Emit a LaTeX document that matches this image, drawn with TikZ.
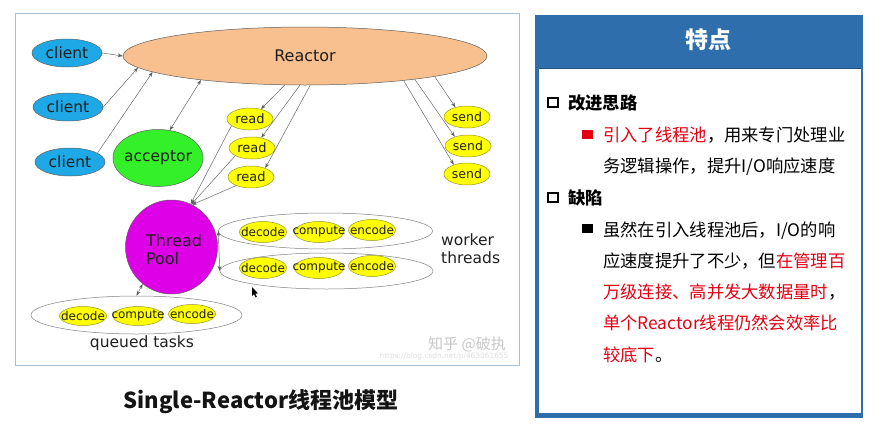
\documentclass[tikz,border=0pt]{standalone}
\usepackage{fontspec}
\usetikzlibrary{shapes.geometric,arrows.meta}
\newfontfamily\dejavu{DejaVu Sans}
\newfontfamily\cjkfont{Noto Sans CJK SC}

\definecolor{clientblue}{RGB}{30,168,230}
\definecolor{reactorfill}{RGB}{248,192,142}
\definecolor{acceptgreen}{RGB}{52,240,40}
\definecolor{taskyellow}{RGB}{255,255,0}
\definecolor{taskedge}{RGB}{150,150,40}
\definecolor{poolmagenta}{RGB}{222,0,230}
\definecolor{panelblue}{RGB}{47,110,172}
\definecolor{hotred}{RGB}{228,0,18}
\definecolor{framegray}{RGB}{165,192,215}
\definecolor{edgegray}{RGB}{95,95,95}

\tikzset{
  % the ellipse takes its size from minimum width/height only;
  % its word is set as a centred label so it cannot widen the shape
  blob/.style={ellipse, draw=edgegray, line width=0.5pt, inner sep=0pt},
  word/.style={inner sep=0pt, text=black!88, align=left,
    font=\dejavu\fontsize{#1}{18}\selectfont},
  word/.default=15.5,
  clientnode/.style={blob, fill=clientblue, minimum width=70pt, minimum height=28pt,
    label={[word]center:client}},
  readnode/.style={blob, fill=taskyellow, draw=taskedge, minimum width=46pt,
    minimum height=22pt, label={[word=13]center:read}},
  sendnode/.style={blob, fill=taskyellow, draw=taskedge, minimum width=46pt,
    minimum height=22pt, label={[word=12.5]center:send}},
  tasknode/.style={blob, fill=taskyellow, draw=taskedge, minimum width=47pt,
    minimum height=21pt, label={[word=12]center:#1}},
  groupring/.style={ellipse, draw=edgegray!80, line width=0.5pt, inner sep=0pt},
  plainlabel/.style={word},
  link/.style={draw=edgegray, line width=0.45pt,
    arrows={-Stealth[length=5pt,width=3.6pt]}},
  duallink/.style={draw=edgegray, line width=0.45pt,
    arrows={Stealth[length=5pt,width=3.6pt]-Stealth[length=5pt,width=3.6pt]}},
  bodytext/.style={anchor=base west, inner sep=0pt,
    font=\cjkfont\fontsize{17.3}{20}\selectfont},
  headtext/.style={bodytext, font=\cjkfont\bfseries\fontsize{17.3}{20}\selectfont},
  boxmark/.style={draw=black, line width=2.2pt, minimum size=9.5pt, inner sep=0pt},
  dotmark/.style={minimum width=10.5pt, minimum height=9.5pt, inner sep=0pt},
}

\begin{document}
\begin{tikzpicture}[x=1pt, y=-1pt]
\useasboundingbox (0,0) rectangle (885,426);
\fill[white] (0,0) rectangle (885,426);

% ---------- left panel: reactor with thread pool ----------
\draw[framegray, line width=1pt] (15,13) rectangle (519,365);

\node[blob, fill=reactorfill, minimum width=364pt, minimum height=58pt,
  label={[word=16]center:Reactor}] (reactor) at (305,56) {};

\node[clientnode] (client1) at (67,53) {};
\node[clientnode] (client2) at (68,107) {};
\node[clientnode] (client3) at (70,162) {};

\node[blob, fill=acceptgreen, minimum width=90pt, minimum height=57pt,
  label={[word]center:acceptor}] (acceptor) at (158,158) {};

\node[readnode] (read1) at (250,119) {};
\node[readnode] (read2) at (252,148) {};
\node[readnode] (read3) at (251,177) {};

\node[sendnode] (send1) at (467,117) {};
\node[sendnode] (send2) at (468,146) {};
\node[sendnode] (send3) at (467,174) {};

\node[blob, fill=poolmagenta, minimum width=92pt, minimum height=94pt] (pool) at (171.5,247) {};
\node[word=16] (pooltext) at (174,249.5) {Thread\\Pool};

% worker threads
\node[groupring, minimum width=214pt, minimum height=36pt] (wrow1) at (325.5,231) {};
\node[groupring, minimum width=213pt, minimum height=36pt] (wrow2) at (326.5,271) {};
\node[tasknode=decode] (wdec1) at (263,232) {};
\node[tasknode=compute, minimum width=49pt] (wcmp1) at (319,232) {};
\node[tasknode=encode] (wenc1) at (372,230) {};
\node[tasknode=decode] (wdec2) at (263,268) {};
\node[tasknode=compute, minimum width=49pt] (wcmp2) at (319,268) {};
\node[tasknode=encode] (wenc2) at (372,266) {};
\node[plainlabel, anchor=west] (workerlbl) at (441,249) {worker\\threads};

% queued tasks
\node[groupring, minimum width=211pt, minimum height=38pt] (queue) at (136.5,315) {};
\node[tasknode=decode, minimum height=19pt] (qdec) at (83,316) {};
\node[tasknode=compute, minimum width=50pt, minimum height=19pt] (qcmp) at (138,316) {};
\node[tasknode=encode, minimum height=19pt] (qenc) at (192,314) {};
\node[plainlabel] (queuelbl) at (142,343) {queued tasks};

% connectors
\draw[link] (client1.east) -- (reactor.west);
\draw[link] (client2.east) -- (reactor.184);
\draw[link] (client3.18) -- (reactor.186);
\draw[duallink] (acceptor.67) -- (reactor.193.6);
\draw[link] (reactor.235) -- (read1.42);
\draw[link] (reactor.260) -- (read2.48);
\draw[link] (reactor.280) -- (read3.32);
\draw[link] (read1.200) -- (pool.66);
\draw[link] (read2.205) -- (pool.65);
\draw[link] (read3.210) -- (pool.64);
\draw[link] (reactor.351) -- (send1.140);
\draw[link] (reactor.348) -- (send2.145);
\draw[link] (reactor.346) -- (send3.145);
\draw[duallink] (wrow1.west) -- (wrow2.west);
\draw[duallink] (queue.north) -- (pool.232);

% pointer
\fill[black] (252,287) -- (252,296) -- (254,294) -- (255.6,297.4) -- (256.8,296.8) -- (255.3,293.6) -- (258,293.4) -- cycle;

% watermark
\node[text=black!22, font=\cjkfont\fontsize{15}{18}\selectfont] (wmark) at (467,344) {知乎 @破执};
\node[text=black!13, font=\dejavu\fontsize{7.4}{9}\selectfont] (wurl) at (444,356) {https://blog.csdn.net/p/463061655};

% caption
\node[font=\cjkfont\bfseries\fontsize{22}{26}\selectfont, text=black!92] (caption) at (261,402) {Single-Reactor线程池模型};

% ---------- right panel: features ----------
\fill[panelblue] (535,15) rectangle (863,418);
\fill[white] (539,68) rectangle (861,413);
\draw[panelblue!75!black, line width=0.8pt] (539,68) -- (861,68);
\node[text=white, font=\cjkfont\bfseries\fontsize{23}{26}\selectfont] (title) at (708,40) {特点};

\node[boxmark] (sq1) at (553,102.5) {};
\node[headtext] (head1) at (568,109) {改进思路};
\node[dotmark, fill=hotred] (dot1) at (587.5,134.5) {};
\node[bodytext] (line1) at (603,141) {\textcolor{hotred}{引入了线程池}，用来专门处理业};
\node[bodytext] (line2) at (603,172) {务逻辑操作，提升I/O响应速度};

\node[boxmark] (sq2) at (553,197.5) {};
\node[headtext] (head2) at (568,204) {缺陷};
\node[dotmark, fill=black] (dot2) at (587.5,228.7) {};
\node[bodytext] (line3) at (603,236) {虽然在引入线程池后，I/O的响};
\node[bodytext] (line4) at (603,267) {应速度提升了不少，但\textcolor{hotred}{在管理百}};
\node[bodytext] (line5) at (603,298) {\textcolor{hotred}{万级连接、高并发大数据量时}，};
\node[bodytext] (line6) at (603,329) {\textcolor{hotred}{单个Reactor线程仍然会效率比}};
\node[bodytext] (line7) at (603,361) {\textcolor{hotred}{较底下}。};
\end{tikzpicture}
\end{document}
